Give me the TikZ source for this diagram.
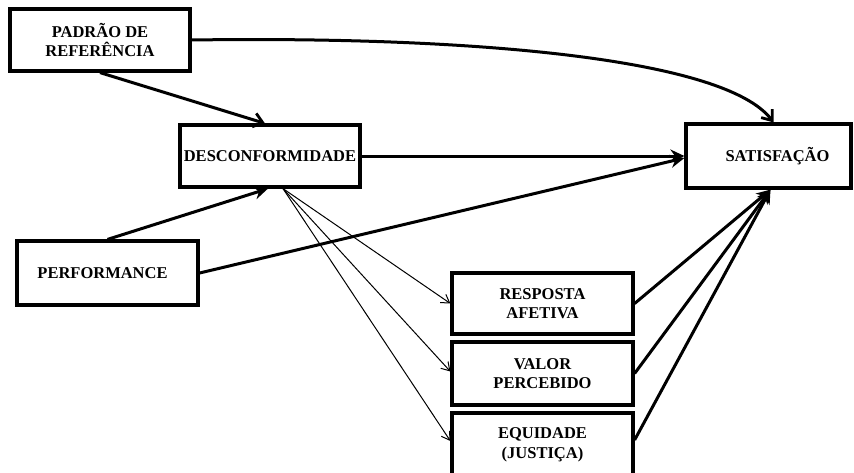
\documentclass[tikz,border=0pt]{standalone}
\usepackage{fontspec}
\setmainfont{Liberation Serif}
\usetikzlibrary{arrows.meta,calc}
\begin{document}
\begin{tikzpicture}[x=1pt,y=-1pt,
  box/.style={draw,line width=3.2pt,fill=white,align=center,inner sep=0pt,
    font=\bfseries\fontsize{16.5}{19.5}\selectfont},
  thick arrow/.style={line width=3pt,-{Stealth[length=14pt,width=13pt]}},
  open arrow/.style={line width=3pt,-{Straight Barb[length=9pt,width=14pt,line width=2.8pt]}},
  thin arrow/.style={line width=1pt,-{Straight Barb[length=8pt,width=10pt]}}]
  \useasboundingbox (0,0) rectangle (854,472);
  \fill[white] (0,0) rectangle (854,472);

  % boxes
  \node[box,minimum width=180pt,minimum height=62pt] (padrao) at (100,40) {PADRÃO DE\\REFERÊNCIA};
  \node[box,minimum width=180pt,minimum height=62pt] (desc) at (270,156) {DESCONFORMIDADE};
  \node[box,minimum width=181pt,minimum height=64pt] (perf) at (107.5,273) {\hspace*{-10pt}PERFORMANCE};
  \node[box,minimum width=165pt,minimum height=64pt] (sat) at (768.5,156) {\hspace*{18pt}SATISFAÇÃO};
  \node[box,minimum width=181pt,minimum height=61pt] (resp) at (542.5,303.5) {RESPOSTA\\AFETIVA};
  \node[box,minimum width=181pt,minimum height=63pt] (valor) at (542.5,373.5) {VALOR\\PERCEBIDO};
  \node[box,minimum width=181pt,minimum height=64pt] (equi) at (542.5,445) {EQUIDADE\\(JUSTIÇA)};

  % main paths into the central constructs
  \draw[open arrow] (padrao.south) -- ([xshift=-5pt]desc.north);
  \draw[thick arrow] (perf.north) -- ([xshift=-2pt]desc.south);
  \draw[open arrow] (padrao.east) .. controls (470,36) and (725,58) .. ([xshift=5pt]sat.north);
  \draw[thick arrow] (desc.east) -- (sat.west);
  \draw[thick arrow] (perf.east) -- ([yshift=-2pt]sat.west);

  % mediators
  \draw[thin arrow] ([xshift=13pt]desc.south) -- (resp.west);
  \draw[thin arrow] ([xshift=13pt]desc.south) -- ([yshift=2pt]valor.west);
  \draw[thin arrow] ([xshift=13pt]desc.south) -- ([yshift=4pt]equi.west);
  \draw[thick arrow] (resp.east) -- ([xshift=2pt]sat.south);
  \draw[thick arrow] (valor.east) -- ([xshift=2pt]sat.south);
  \draw[thick arrow] ([yshift=5pt]equi.east) -- ([xshift=2pt]sat.south);
\end{tikzpicture}
\end{document}
